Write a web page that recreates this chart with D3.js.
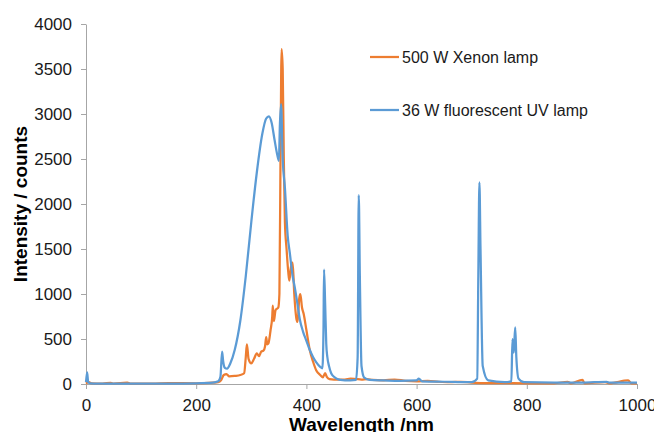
<!DOCTYPE html>
<html>
<head>
<meta charset="utf-8">
<script src="https://cdn.jsdelivr.net/npm/d3@7"></script>
<style>
	body { margin: 0; background: #fff; }
	text { font-family: "Liberation Sans", Arial, sans-serif; }
</style>
</head>
<body>
<svg id="chart" width="654" height="432"></svg>
<script>
// series names
var seriesNames = ["500 W Xenon lamp", "36 W fluorescent UV lamp"];

// 500 W Xenon lamp
var xenonWl = [0, 5, 10, 30, 45, 50, 75, 80, 120, 150, 200, 230, 240, 245, 250, 255, 260, 270, 280, 287,
	290, 292, 295, 300, 305, 310, 314, 318, 322, 325, 327, 329, 331, 335, 338, 339, 341, 344, 349, 351,
	353, 355, 357, 359, 361, 364, 367, 369, 372, 375, 378, 382, 384, 387, 389, 392, 395, 400, 406, 412,
	418, 425, 430, 434, 437, 442, 450, 470, 480, 490, 500, 510, 520, 540, 560, 580, 600, 620, 640, 660,
	680, 700, 720, 750, 800, 850, 874, 880, 901, 905, 942, 950, 984, 990, 1000];
var xenonI = [5, 20, 8, 5, 12, 5, 15, 5, 5, 10, 8, 15, 20, 40, 100, 110, 85, 90, 100, 120,
	300, 440, 280, 230, 280, 340, 310, 360, 370, 420, 520, 440, 450, 600, 750, 870, 700, 820, 850, 1000,
	2500, 3720, 3500, 2500, 1800, 1500, 1250, 1150, 1300, 1350, 1000, 720, 690, 950, 1000, 850, 780, 600, 380, 250,
	150, 100, 75, 120, 80, 55, 50, 50, 60, 55, 50, 55, 45, 40, 50, 35, 30, 35, 25, 20,
	25, 15, 10, 10, 8, 8, 25, 8, 45, 8, 20, 8, 40, 8, 8];

// 36 W fluorescent UV lamp
var uvWl = [0, 2, 4, 8, 20, 50, 100, 150, 200, 230, 240, 244, 247, 249, 252, 256, 262, 270, 280, 290,
	300, 310, 320, 327, 332, 337, 342, 347, 350, 352, 354, 357, 361, 366, 370, 375, 379, 384, 388, 394,
	400, 406, 412, 418, 425, 429, 431, 432, 434, 436, 438, 441, 445, 450, 456, 462, 470, 480, 490, 493,
	495, 497, 500, 505, 515, 540, 570, 600, 604, 610, 650, 700, 710, 712, 714, 716, 720, 730, 760, 772,
	774, 776, 777, 779, 781, 785, 795, 850, 900, 945, 950, 1000];
var uvI = [20, 130, 20, 8, 5, 5, 5, 5, 8, 15, 30, 80, 360, 250, 180, 170, 230, 380, 700, 1200,
	1800, 2350, 2780, 2950, 2975, 2900, 2720, 2550, 2480, 2900, 3110, 2500, 2180, 1650, 1450, 1200, 1070, 880, 720, 580,
	480, 380, 300, 240, 190, 175, 600, 1270, 900, 450, 300, 200, 120, 80, 55, 45, 40, 40, 45, 300,
	2100, 1200, 200, 70, 45, 40, 35, 40, 60, 30, 25, 20, 60, 1200, 2240, 1500, 200, 40, 20, 30,
	500, 350, 420, 630, 300, 60, 20, 15, 15, 25, 15, 15];

var xTicks = [0, 200, 400, 600, 800, 1000];
var yTicks = [0, 500, 1000, 1500, 2000, 2500, 3000, 3500, 4000];
var colors = ["#ed7d31", "#5b9bd5"];

var margin = {top: 24, right: 17, bottom: 48, left: 86},
	width = 654 - margin.left - margin.right,
	height = 432 - margin.top - margin.bottom;

var x = d3.scaleLinear().domain([0, 1000]).range([0, width]),
	y = d3.scaleLinear().domain([0, 4000]).range([height, 0]);

var svg = d3.select("#chart");
var g = svg.append("g")
	.attr("transform", "translate(" + margin.left + "," + margin.top + ")");

var xAxis = g.append("g")
	.attr("class", "axis axis--x")
	.attr("transform", "translate(0," + height + ")")
	.call(d3.axisBottom(x).tickValues(xTicks).tickFormat(d3.format("d"))
		.tickSize(5).tickPadding(10).tickSizeOuter(0));

var yAxis = g.append("g")
	.attr("class", "axis axis--y")
	.call(d3.axisLeft(y).tickValues(yTicks).tickFormat(d3.format("d"))
		.tickSize(5).tickPadding(9).tickSizeOuter(0));

[xAxis, yAxis].forEach(function(a) {
	a.selectAll("path, line").attr("stroke", "#a6a6a6").attr("stroke-width", 1);
	a.selectAll("text")
		.attr("fill", "#1a1a1a")
		.style("font-size", "17px")
		.style("font-family", "'Liberation Sans', Arial, sans-serif");
});

var line = d3.line()
	.x(function(d) { return x(d[0]); })
	.y(function(d) { return y(d[1]); })
	.curve(d3.curveMonotoneX);

var series = [
	d3.zip(xenonWl, xenonI),
	d3.zip(uvWl, uvI)
];

series.forEach(function(data, i) {
	g.append("path")
		.datum(data)
		.attr("fill", "none")
		.attr("stroke", colors[i])
		.attr("stroke-width", 2.25)
		.attr("stroke-linejoin", "round")
		.attr("d", line);
});

// legend
var legend = svg.append("g").attr("transform", "translate(370,57)");
seriesNames.forEach(function(name, i) {
	var row = legend.append("g").attr("transform", "translate(0," + (i * 53) + ")");
	row.append("line")
		.attr("x1", 0).attr("x2", 29)
		.attr("stroke", colors[i])
		.attr("stroke-width", 2.25);
	row.append("text")
		.attr("x", 32)
		.attr("dy", "0.35em")
		.attr("fill", "#1a1a1a")
		.style("font-size", "16px")
		.text(name);
});

// axis titles
svg.append("text")
	.attr("x", margin.left + width / 2)
	.attr("y", 431)
	.attr("text-anchor", "middle")
	.style("font-size", "19px")
	.style("font-weight", "bold")
	.text("Wavelength /nm");

svg.append("text")
	.attr("transform", "translate(27," + (margin.top + height / 2) + ") rotate(-90)")
	.attr("text-anchor", "middle")
	.style("font-size", "19px")
	.style("font-weight", "bold")
	.text("Intensity / counts");
</script>
</body>
</html>
